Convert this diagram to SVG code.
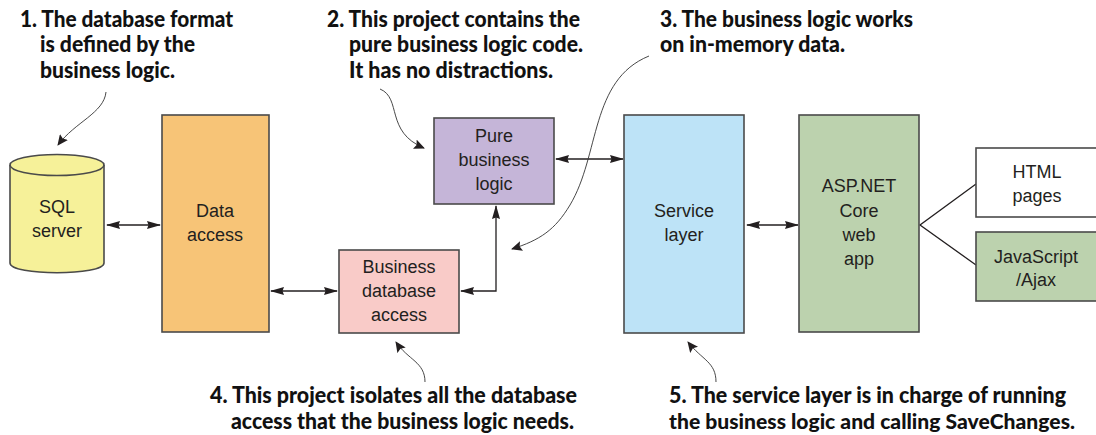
<svg xmlns="http://www.w3.org/2000/svg" width="1096" height="435" viewBox="0 0 1096 435">
<style>
.n{stroke:#4a4a4a;stroke-width:1.6}
.l{font:18px "Liberation Sans",Arial,sans-serif;fill:#231f20;text-anchor:middle}
.a{font:900 22.5px Lato,"Open Sans",sans-serif;fill:#111}
.s{font-size:21px}
.c{fill:none;stroke:#231f20;stroke-width:1.3}
.t{fill:none;stroke:#333;stroke-width:.9}
</style>
<defs>
<marker id="h" markerUnits="userSpaceOnUse" markerWidth="14" markerHeight="10" refX="13" refY="4" orient="auto-start-reverse" viewBox="0 0 14 8"><path d="M0 0L14 4L0 8L1.5 4z" fill="#231f20"/></marker>
<marker id="k" markerUnits="userSpaceOnUse" markerWidth="11" markerHeight="10" refX="10" refY="5" orient="auto" viewBox="0 0 11 10"><path d="M0 0L11 5L0 10L2 5z" fill="#231f20"/></marker>
</defs>
<g id="connectors">
<path class="c" d="M107 225H160" marker-start="url(#h)" marker-end="url(#h)"/>
<path class="c" d="M271 291H337" marker-start="url(#h)" marker-end="url(#h)"/>
<path class="c" d="M461 291H496V206" marker-start="url(#h)" marker-end="url(#h)"/>
<path class="c" d="M556 159H623" marker-start="url(#h)" marker-end="url(#h)"/>
<path class="c" d="M747 225H798" marker-start="url(#h)" marker-end="url(#h)"/>
<path class="c" d="M976 184L920 225L976 265"/>
<path class="t" d="M106 92C104 113 75 122 58 145" marker-end="url(#k)"/>
<path class="t" d="M380 89C402 98 385 132 424 148" marker-end="url(#k)"/>
<path class="t" d="M649 56C590 80 600 155 570 205C555 230 540 240 512 249" marker-end="url(#k)"/>
<path class="t" d="M425 382C425 362 408 360 396 342" marker-end="url(#k)"/>
<path class="t" d="M716 382C716 362 702 360 688 342" marker-end="url(#k)"/>
</g>
<g id="sql-server">
<path class="n" d="M10 165V263C10 276 104 276 104 263V165" fill="#f6f199"/>
<ellipse class="n" cx="57" cy="165" rx="47" ry="10.5" fill="#f6f199"/>
<text class="l" x="57" y="213">SQL</text><text class="l" x="57" y="237">server</text>
</g>
<g id="data-access"><rect class="n" x="162" y="115" width="107" height="217" fill="#f7c477"/>
<text class="l" x="215" y="217">Data</text><text class="l" x="215" y="241">access</text></g>
<g id="pure-business-logic"><rect class="n" x="434" y="118" width="120" height="86" fill="#c5b5d8"/>
<text class="l" x="494" y="142">Pure</text><text class="l" x="494" y="166">business</text><text class="l" x="494" y="190">logic</text></g>
<g id="business-database-access"><rect class="n" x="339" y="250" width="120" height="83" fill="#f9cbc8"/>
<text class="l" x="399" y="273">Business</text><text class="l" x="399" y="297">database</text><text class="l" x="399" y="321">access</text></g>
<g id="service-layer"><rect class="n" x="624" y="115" width="120" height="218" fill="#bde3f7"/>
<text class="l" x="684" y="217">Service</text><text class="l" x="684" y="241">layer</text></g>
<g id="web-app"><rect class="n" x="799" y="115" width="120" height="217" fill="#bcd2ae"/>
<text class="l" x="859" y="192">ASP.NET</text><text class="l" x="859" y="217">Core</text><text class="l" x="859" y="241">web</text><text class="l" x="859" y="265">app</text></g>
<g id="html-pages"><rect class="n" x="976" y="148" width="130" height="69" fill="#fff"/>
<text class="l" x="1037" y="178">HTML</text><text class="l" x="1037" y="202">pages</text></g>
<g id="javascript-ajax"><rect class="n" x="976" y="232" width="130" height="69" fill="#bcd2ae"/>
<text class="l" x="1036" y="263">JavaScript</text><text class="l" x="1036" y="286">/Ajax</text></g>
<g id="annotations">
<text class="a" x="20" y="27" textLength="213" lengthAdjust="spacingAndGlyphs">1. The database format</text>
<text class="a" x="40" y="52" textLength="155" lengthAdjust="spacingAndGlyphs">is defined by the</text>
<text class="a" x="40" y="78" textLength="135" lengthAdjust="spacingAndGlyphs">business logic.</text>
<text class="a" x="327" y="27" textLength="253" lengthAdjust="spacingAndGlyphs">2. This project contains the</text>
<text class="a" x="349" y="52" textLength="234" lengthAdjust="spacingAndGlyphs">pure business logic code.</text>
<text class="a" x="349" y="78" textLength="204" lengthAdjust="spacingAndGlyphs">It has no distractions.</text>
<text class="a" x="660" y="27" textLength="253" lengthAdjust="spacingAndGlyphs">3. The business logic works</text>
<text class="a" x="660" y="52" textLength="185" lengthAdjust="spacingAndGlyphs">on in-memory data.</text>
<text class="a" x="210" y="403" textLength="367" lengthAdjust="spacingAndGlyphs">4. This project isolates all the database</text>
<text class="a" x="231" y="429" textLength="343" lengthAdjust="spacingAndGlyphs">access that the business logic needs.</text>
<text class="a" x="669" y="403" textLength="397" lengthAdjust="spacingAndGlyphs">5. The service layer is in charge of running</text>
<text class="a s" x="669" y="429" textLength="406" lengthAdjust="spacingAndGlyphs">the business logic and calling SaveChanges.</text>
</g>
</svg>
